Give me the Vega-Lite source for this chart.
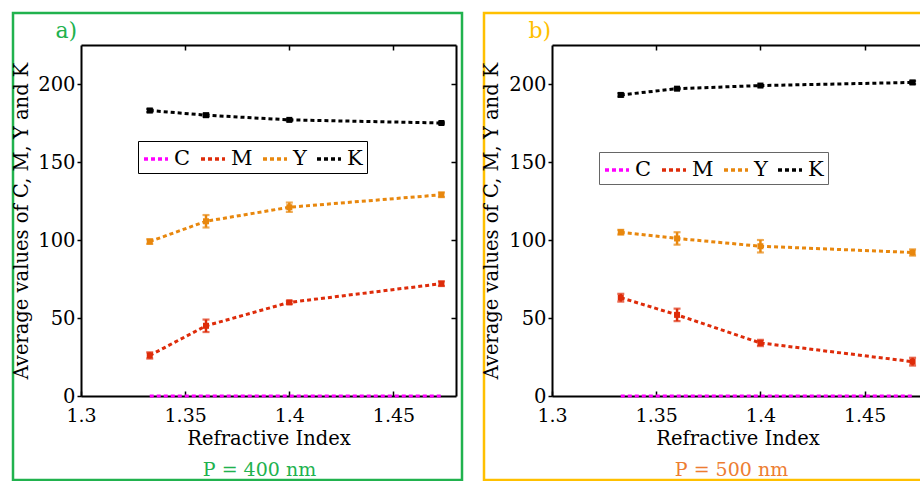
{
  "$schema": "https://vega.github.io/schema/vega-lite/v6.json",
  "padding": {"left": 10, "top": 11, "right": 0, "bottom": 0},
  "background": "white",
  "spacing": 22,
  "bounds": "flush",
  "datasets": {
    "d": [
      {"p": "a", "s": "C", "ri": 1.333, "v": 0, "lo": 0, "hi": 0},
      {"p": "a", "s": "C", "ri": 1.36, "v": 0, "lo": 0, "hi": 0},
      {"p": "a", "s": "C", "ri": 1.4, "v": 0, "lo": 0, "hi": 0},
      {"p": "a", "s": "C", "ri": 1.473, "v": 0, "lo": 0, "hi": 0},
      {"p": "a", "s": "M", "ri": 1.333, "v": 26, "lo": 24, "hi": 28},
      {"p": "a", "s": "M", "ri": 1.36, "v": 45, "lo": 41, "hi": 49},
      {"p": "a", "s": "M", "ri": 1.4, "v": 60, "lo": 59, "hi": 61},
      {"p": "a", "s": "M", "ri": 1.473, "v": 72, "lo": 70.5, "hi": 73.5},
      {"p": "a", "s": "Y", "ri": 1.333, "v": 99, "lo": 97.5, "hi": 100.5},
      {"p": "a", "s": "Y", "ri": 1.36, "v": 112, "lo": 108, "hi": 116},
      {"p": "a", "s": "Y", "ri": 1.4, "v": 121, "lo": 118, "hi": 124},
      {"p": "a", "s": "Y", "ri": 1.473, "v": 129, "lo": 127.5, "hi": 130.5},
      {"p": "a", "s": "K", "ri": 1.333, "v": 183, "lo": 182, "hi": 184},
      {"p": "a", "s": "K", "ri": 1.36, "v": 180, "lo": 179, "hi": 181},
      {"p": "a", "s": "K", "ri": 1.4, "v": 177, "lo": 176.5, "hi": 177.5},
      {"p": "a", "s": "K", "ri": 1.473, "v": 175, "lo": 174.5, "hi": 175.5},
      {"p": "b", "s": "C", "ri": 1.333, "v": 0, "lo": 0, "hi": 0},
      {"p": "b", "s": "C", "ri": 1.36, "v": 0, "lo": 0, "hi": 0},
      {"p": "b", "s": "C", "ri": 1.4, "v": 0, "lo": 0, "hi": 0},
      {"p": "b", "s": "C", "ri": 1.473, "v": 0, "lo": 0, "hi": 0},
      {"p": "b", "s": "M", "ri": 1.333, "v": 63, "lo": 60.5, "hi": 65.5},
      {"p": "b", "s": "M", "ri": 1.36, "v": 52, "lo": 48, "hi": 56},
      {"p": "b", "s": "M", "ri": 1.4, "v": 34, "lo": 32, "hi": 36},
      {"p": "b", "s": "M", "ri": 1.473, "v": 22, "lo": 19.5, "hi": 24.5},
      {"p": "b", "s": "Y", "ri": 1.333, "v": 105, "lo": 103.5, "hi": 106.5},
      {"p": "b", "s": "Y", "ri": 1.36, "v": 101, "lo": 97, "hi": 105},
      {"p": "b", "s": "Y", "ri": 1.4, "v": 96, "lo": 92, "hi": 100},
      {"p": "b", "s": "Y", "ri": 1.473, "v": 92, "lo": 90, "hi": 94},
      {"p": "b", "s": "K", "ri": 1.333, "v": 193, "lo": 192, "hi": 194},
      {"p": "b", "s": "K", "ri": 1.36, "v": 197, "lo": 196.5, "hi": 197.5},
      {"p": "b", "s": "K", "ri": 1.4, "v": 199, "lo": 198.5, "hi": 199.5},
      {"p": "b", "s": "K", "ri": 1.473, "v": 201, "lo": 200, "hi": 202}
    ]
  },
  "hconcat": [
    {
      "width": 449,
      "height": 467,
      "view": {"stroke": "#21B24E", "strokeWidth": 2.5, "fill": "white"},
      "title": {"text": "P = 400 nm", "orient": "bottom", "anchor": "middle", "dx": 22, "offset": -4, "baseline": "alphabetic", "color": "#21B24E", "fontSize": 19, "fontWeight": "normal", "font": "DejaVu Serif"},
      "data": {"name": "d"},
      "transform": [{"filter": "datum.p == 'a'"}],
      "layer": [
        {
          "mark": {"type": "line", "strokeDash": [4, 3], "strokeWidth": 3, "strokeCap": "butt"},
          "encoding": {
            "x": {"field": "ri", "type": "quantitative",
              "scale": {"domain": [1.3, 1.48], "range": [68, 443], "nice": false, "zero": false},
              "axis": {"orient": "bottom", "offset": -84, "values": [1.3, 1.35, 1.4, 1.45], "format": "~g", "tickSize": -5, "labelPadding": 15, "labelFontSize": 19, "title": "Refractive Index", "titlePadding": 4}},
            "y": {"field": "v", "type": "quantitative",
              "scale": {"domain": [0, 225], "range": [383, 32], "nice": false},
              "axis": {"orient": "left", "offset": -68, "values": [0, 50, 100, 150, 200], "format": "d", "tickSize": 4, "labelPadding": 2, "title": "Average values of C, M, Y and K", "titlePadding": 6, "titleFontSize": 19.5}},
            "color": {"field": "s", "type": "nominal",
              "scale": {"domain": ["C", "M", "Y", "K"], "range": ["#FF00FF", "#DE2C0A", "#E8870D", "#000000"]},
              "legend": {"orient": "none", "legendX": 125, "legendY": 128, "direction": "horizontal", "title": null, "symbolType": "stroke", "symbolDash": [4, 3], "symbolStrokeWidth": 3.3, "symbolSize": 576, "labelFont": "DejaVu Serif", "labelFontSize": 21, "labelColor": "black", "labelOffset": 4, "columnPadding": 3, "gridAlign": "none", "padding": 4, "strokeColor": "black", "fillColor": "white"}}
          }
        },
        {
          "transform": [{"filter": "datum.s != 'C'"}],
          "mark": {"type": "point", "shape": "square", "filled": true, "size": 36, "opacity": 1},
          "encoding": {
            "x": {"field": "ri", "type": "quantitative",
              "scale": {"domain": [1.3, 1.48], "range": [68, 443], "nice": false, "zero": false},
              "axis": {"orient": "top", "offset": -32, "values": [1.35, 1.4, 1.45], "labels": false, "tickSize": -5, "title": "a)", "titleX": 42, "titleY": -8, "titleAlign": "left", "titleBaseline": "alphabetic", "titleColor": "#21B24E", "titleFontSize": 22}},
            "y": {"field": "v", "type": "quantitative",
              "scale": {"domain": [0, 225], "range": [383, 32], "nice": false},
              "axis": {"orient": "right", "offset": -6, "values": [50, 100, 150, 200], "labels": false, "tickSize": -5, "title": null}},
            "color": {"field": "s", "type": "nominal", "legend": null}
          }
        },
        {
          "transform": [{"filter": "datum.s != 'C'"}],
          "mark": {"type": "errorbar", "ticks": {"size": 7, "thickness": 2.2}, "rule": {"strokeWidth": 2.5}},
          "encoding": {
            "x": {"field": "ri", "type": "quantitative", "scale": {"domain": [1.3, 1.48], "range": [68, 443], "nice": false, "zero": false}, "axis": null},
            "y": {"field": "lo", "type": "quantitative", "scale": {"domain": [0, 225], "range": [383, 32], "nice": false}, "axis": null},
            "y2": {"field": "hi"},
            "color": {"field": "s", "type": "nominal", "legend": null}
          }
        }
      ],
      "resolve": {"axis": {"x": "independent", "y": "independent"}}
    },
    {
      "width": 439,
      "height": 467,
      "view": {"stroke": "#FFC000", "strokeWidth": 2.5, "fill": "white"},
      "title": {"text": "P = 500 nm", "orient": "bottom", "anchor": "middle", "dx": 28, "offset": -4, "baseline": "alphabetic", "color": "#ED7D31", "fontSize": 19, "fontWeight": "normal", "font": "DejaVu Serif"},
      "data": {"name": "d"},
      "transform": [{"filter": "datum.p == 'b'"}],
      "layer": [
        {
          "mark": {"type": "line", "strokeDash": [4, 3], "strokeWidth": 3, "strokeCap": "butt"},
          "encoding": {
            "x": {"field": "ri", "type": "quantitative",
              "scale": {"domain": [1.3, 1.478], "range": [68, 439], "nice": false, "zero": false},
              "axis": {"orient": "bottom", "offset": -84, "values": [1.3, 1.35, 1.4, 1.45], "format": "~g", "tickSize": -5, "labelPadding": 15, "labelFontSize": 19, "title": "Refractive Index", "titlePadding": 4}},
            "y": {"field": "v", "type": "quantitative",
              "scale": {"domain": [0, 225], "range": [383, 32], "nice": false},
              "axis": {"orient": "left", "offset": -68, "values": [0, 50, 100, 150, 200], "format": "d", "tickSize": 4, "labelPadding": 2, "title": "Average values of C, M, Y and K", "titlePadding": 7, "titleFontSize": 19.5}},
            "color": {"field": "s", "type": "nominal",
              "legend": {"orient": "none", "legendX": 115, "legendY": 139, "direction": "horizontal", "title": null, "symbolType": "stroke", "symbolDash": [4, 3], "symbolStrokeWidth": 3.3, "symbolSize": 576, "labelFont": "DejaVu Serif", "labelFontSize": 21, "labelColor": "black", "labelOffset": 4, "columnPadding": 3, "gridAlign": "none", "padding": 4, "strokeColor": "#666666", "fillColor": "white"}}
          }
        },
        {
          "transform": [{"filter": "datum.s != 'C'"}],
          "mark": {"type": "point", "shape": "square", "filled": true, "size": 36, "opacity": 1},
          "encoding": {
            "x": {"field": "ri", "type": "quantitative",
              "scale": {"domain": [1.3, 1.478], "range": [68, 439], "nice": false, "zero": false},
              "axis": {"orient": "top", "offset": -32, "values": [1.35, 1.4, 1.45], "labels": false, "tickSize": -5, "title": "b)", "titleX": 44, "titleY": -8, "titleAlign": "left", "titleBaseline": "alphabetic", "titleColor": "#FFC000", "titleFontSize": 22}},
            "y": {"field": "v", "type": "quantitative",
              "scale": {"domain": [0, 225], "range": [383, 32], "nice": false},
              "axis": null},
            "color": {"field": "s", "type": "nominal", "legend": null}
          }
        },
        {
          "transform": [{"filter": "datum.s != 'C'"}],
          "mark": {"type": "errorbar", "ticks": {"size": 7, "thickness": 2.2}, "rule": {"strokeWidth": 2.5}},
          "encoding": {
            "x": {"field": "ri", "type": "quantitative", "scale": {"domain": [1.3, 1.478], "range": [68, 439], "nice": false, "zero": false}, "axis": null},
            "y": {"field": "lo", "type": "quantitative", "scale": {"domain": [0, 225], "range": [383, 32], "nice": false}, "axis": null},
            "y2": {"field": "hi"},
            "color": {"field": "s", "type": "nominal", "legend": null}
          }
        }
      ],
      "resolve": {"axis": {"x": "independent", "y": "independent"}}
    }
  ],
  "resolve": {"legend": {"color": "independent"}},
  "config": {
    "font": "DejaVu Serif",
    "axis": {"grid": false, "labelFont": "DejaVu Serif", "titleFont": "DejaVu Serif", "labelFontSize": 19.5, "titleFontSize": 19.5, "labelColor": "black", "titleColor": "black", "titleFontWeight": "normal", "tickColor": "black", "domainColor": "black", "domainWidth": 2, "tickWidth": 1.5, "labelFlush": false, "labelOverlap": false},
    "legend": {"labelFont": "DejaVu Serif"},
    "title": {"fontWeight": "normal", "font": "DejaVu Serif"}
  }
}
